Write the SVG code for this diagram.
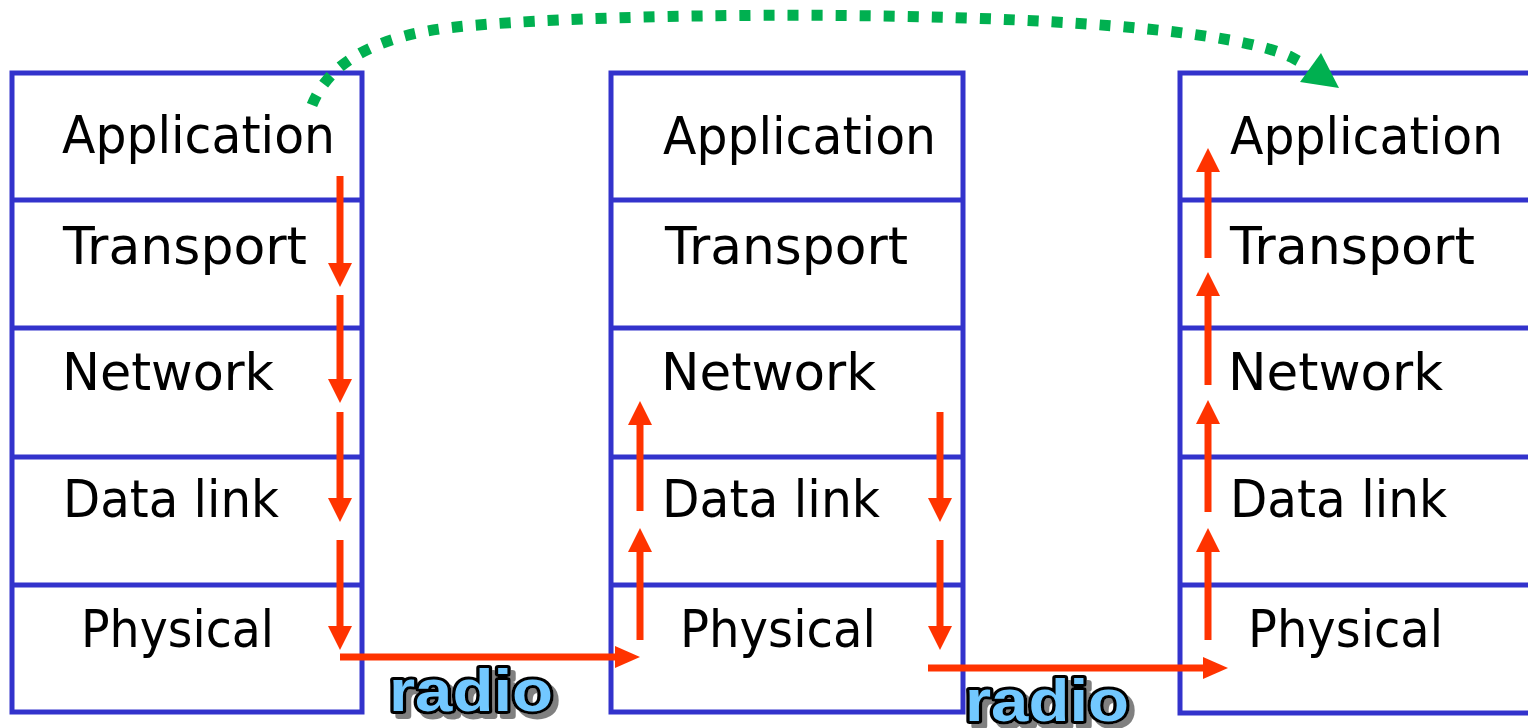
<svg xmlns="http://www.w3.org/2000/svg" width="1528" height="728" viewBox="0 0 1528 728">
  <style>
    .frame { fill: none; stroke: #3333CC; stroke-width: 5; }
    .sep { stroke: #3333CC; stroke-width: 5; }
    .layer { font-family: "DejaVu Sans", "Open Sans", sans-serif; font-size: 52px; fill: #000; }
    .flow { stroke: #FF3300; stroke-width: 7; fill: none; }
    .head { fill: #FF3300; }
    .peer { fill: none; stroke: #00B050; stroke-width: 11; stroke-dasharray: 11 13; }
    .radio { font-family: "Liberation Sans", Arial, sans-serif; font-weight: bold; font-size: 60px;
             fill: #72C8FF; stroke: #000; stroke-width: 6; stroke-linejoin: round; paint-order: stroke;
             filter: url(#shadow); }
  </style>
  <defs>
    <filter id="shadow" x="-10%" y="-20%" width="130%" height="150%">
      <feOffset in="SourceAlpha" dx="5" dy="5" result="off"/>
      <feFlood flood-color="#808080"/>
      <feComposite in2="off" operator="in" result="sh"/>
      <feMerge>
        <feMergeNode in="sh"/>
        <feMergeNode in="SourceGraphic"/>
      </feMerge>
    </filter>
    <polygon id="down" class="head" points="-12,-24 12,-24 0,0"/>
    <polygon id="up" class="head" points="-12,24 12,24 0,0"/>
    <polygon id="right" class="head" points="-25,-11 -25,11 0,0"/>
  </defs>

  <!-- sender host -->
  <g id="host-a">
    <rect class="frame" x="12" y="73" width="350" height="639"/>
    <line class="sep" x1="12" y1="200" x2="362" y2="200"/>
    <line class="sep" x1="12" y1="328" x2="362" y2="328"/>
    <line class="sep" x1="12" y1="457" x2="362" y2="457"/>
    <line class="sep" x1="12" y1="585" x2="362" y2="585"/>
    <text class="layer" x="62" y="153" textLength="273" lengthAdjust="spacingAndGlyphs">Application</text>
    <text class="layer" x="63" y="264" textLength="244" lengthAdjust="spacingAndGlyphs">Transport</text>
    <text class="layer" x="62" y="390" textLength="212" lengthAdjust="spacingAndGlyphs">Network</text>
    <text class="layer" x="63" y="517" textLength="216" lengthAdjust="spacingAndGlyphs">Data link</text>
    <text class="layer" x="81" y="647" textLength="193" lengthAdjust="spacingAndGlyphs">Physical</text>
  </g>

  <!-- relay node -->
  <g id="relay">
    <rect class="frame" x="611" y="73" width="352" height="639"/>
    <line class="sep" x1="611" y1="200" x2="963" y2="200"/>
    <line class="sep" x1="611" y1="328" x2="963" y2="328"/>
    <line class="sep" x1="611" y1="457" x2="963" y2="457"/>
    <line class="sep" x1="611" y1="585" x2="963" y2="585"/>
    <text class="layer" x="663" y="154" textLength="273" lengthAdjust="spacingAndGlyphs">Application</text>
    <text class="layer" x="665" y="264" textLength="243" lengthAdjust="spacingAndGlyphs">Transport</text>
    <text class="layer" x="661" y="390" textLength="215" lengthAdjust="spacingAndGlyphs">Network</text>
    <text class="layer" x="662" y="517" textLength="218" lengthAdjust="spacingAndGlyphs">Data link</text>
    <text class="layer" x="680" y="647" textLength="196" lengthAdjust="spacingAndGlyphs">Physical</text>
  </g>

  <!-- receiver host -->
  <g id="host-b">
    <polyline class="frame" points="1528,73 1180,73 1180,713 1528,713"/>
    <line class="sep" x1="1180" y1="200" x2="1528" y2="200"/>
    <line class="sep" x1="1180" y1="328" x2="1528" y2="328"/>
    <line class="sep" x1="1180" y1="457" x2="1528" y2="457"/>
    <line class="sep" x1="1180" y1="585" x2="1528" y2="585"/>
    <text class="layer" x="1230" y="154" textLength="273" lengthAdjust="spacingAndGlyphs">Application</text>
    <text class="layer" x="1230" y="264" textLength="245" lengthAdjust="spacingAndGlyphs">Transport</text>
    <text class="layer" x="1228" y="390" textLength="215" lengthAdjust="spacingAndGlyphs">Network</text>
    <text class="layer" x="1230" y="517" textLength="217" lengthAdjust="spacingAndGlyphs">Data link</text>
    <text class="layer" x="1248" y="647" textLength="195" lengthAdjust="spacingAndGlyphs">Physical</text>
  </g>

  <!-- radio link labels -->
  <g id="radio-1">
    <text class="radio" x="389" y="711" textLength="164" lengthAdjust="spacingAndGlyphs">radio</text>
  </g>
  <g id="radio-2">
    <text class="radio" x="965" y="721" textLength="164" lengthAdjust="spacingAndGlyphs">radio</text>
  </g>

  <g id="connectors">
    <!-- down the sender stack -->
    <line class="flow" x1="340" y1="176" x2="340" y2="266"/>
    <use href="#down" x="340" y="287"/>
    <line class="flow" x1="340" y1="295" x2="340" y2="382"/>
    <use href="#down" x="340" y="403"/>
    <line class="flow" x1="340" y1="412" x2="340" y2="501"/>
    <use href="#down" x="340" y="522"/>
    <line class="flow" x1="340" y1="540" x2="340" y2="629"/>
    <use href="#down" x="340" y="650"/>

    <!-- radio hop to relay -->
    <line class="flow" x1="340" y1="657" x2="618" y2="657"/>
    <use href="#right" x="640" y="657"/>

    <!-- up the relay stack -->
    <line class="flow" x1="640" y1="640" x2="640" y2="548"/>
    <use href="#up" x="640" y="528"/>
    <line class="flow" x1="640" y1="511" x2="640" y2="421"/>
    <use href="#up" x="640" y="401"/>

    <!-- down the relay stack -->
    <line class="flow" x1="940" y1="412" x2="940" y2="501"/>
    <use href="#down" x="940" y="522"/>
    <line class="flow" x1="940" y1="540" x2="940" y2="629"/>
    <use href="#down" x="940" y="650"/>

    <!-- radio hop to receiver -->
    <line class="flow" x1="928" y1="668" x2="1205" y2="668"/>
    <use href="#right" x="1228" y="668"/>

    <!-- up the receiver stack -->
    <line class="flow" x1="1208" y1="640" x2="1208" y2="548"/>
    <use href="#up" x="1208" y="528"/>
    <line class="flow" x1="1208" y1="512" x2="1208" y2="420"/>
    <use href="#up" x="1208" y="400"/>
    <line class="flow" x1="1208" y1="385" x2="1208" y2="292"/>
    <use href="#up" x="1208" y="272"/>
    <line class="flow" x1="1208" y1="258" x2="1208" y2="168"/>
    <use href="#up" x="1208" y="148"/>

    <!-- logical peer-to-peer application exchange -->
    <path class="peer" d="M312,105 C330,60 380,35 456,27 C620,10 1180,5 1291,57 L1308,66"/>
    <polygon fill="#00B050" points="1339,88 1321,53 1300,82"/>
  </g>
</svg>
